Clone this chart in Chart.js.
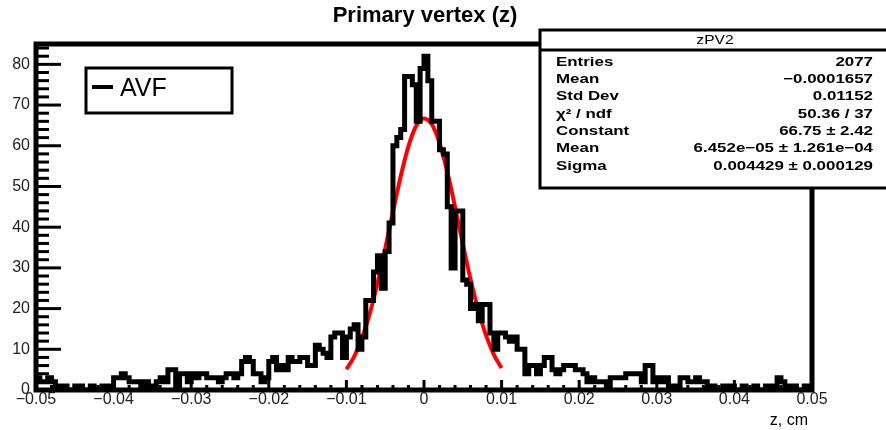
<!DOCTYPE html>
<html>
<head>
<meta charset="utf-8">
<script src="https://cdn.jsdelivr.net/npm/chart.js@4.4.1/dist/chart.umd.min.js"></script>
<style>
  html, body { margin: 0; padding: 0; background: #fff; }
  canvas { display: block; }
</style>
</head>
<body>
<canvas id="zpvChart" width="886" height="430"></canvas>
<script>
// ヒストグラム zPV2 : bin幅 0.0005 cm, 範囲 -0.05〜0.05
const binLow = -0.05;
const binWidth = 0.0005;
const binCounts = [
  3, 2, 2, 3, 2, 1, 0, 1, 0, 0,
  1, 1, 0, 0, 1, 0, 0, 1, 0, 1,
  3, 3, 4, 3, 2, 2, 2, 1, 2, 1,
  0, 2, 3, 2, 5, 5, 1, 4, 4, 2,
  4, 3, 4, 4, 3, 3, 3, 2, 3, 4,
  4, 3, 4, 7, 8, 7, 4, 4, 2, 3,
  7, 8, 5, 6, 5, 8, 7, 7, 8, 8,
  6, 6, 11, 10, 9, 8, 13, 14, 14, 8,
  13, 15, 16, 10, 13, 22, 22, 29, 33, 25,
  34, 41, 60, 62, 64, 77, 77, 75, 66, 79,
  82, 76, 66, 66, 59, 58, 45, 30, 44, 44,
  27, 26, 20, 21, 17, 21, 21, 14, 10, 14,
  14, 13, 12, 13, 10, 10, 4, 6, 6, 4,
  6, 8, 8, 5, 4, 5, 6, 6, 6, 5,
  5, 4, 2, 3, 2, 2, 2, 1, 3, 3,
  3, 3, 4, 4, 4, 4, 2, 6, 6, 2,
  3, 2, 3, 1, 1, 0, 3, 3, 2, 2,
  3, 2, 2, 0, 1, 0, 0, 1, 0, 1,
  0, 0, 1, 0, 0, 1, 0, 0, 1, 0,
  1, 3, 2, 1, 0, 1, 0, 0, 1, 0,
];

// ガウスフィット (赤線) の読み取り値
const fitZ = [-0.010, -0.009, -0.008, -0.007, -0.006, -0.005, -0.004, -0.003, -0.002, -0.001, 0,
  0.001, 0.002, 0.003, 0.004, 0.005, 0.006, 0.007, 0.008, 0.009, 0.010];
const fitValues = [5.1, 8.2, 12.7, 18.7, 26.2, 34.7, 43.8, 52.5, 59.9, 64.9, 66.7,
  65.3, 60.7, 53.6, 45.0, 35.9, 27.2, 19.6, 13.4, 8.7, 5.4];

// 軸の目盛
const xTickValues = [-0.05, -0.04, -0.03, -0.02, -0.01, 0, 0.01, 0.02, 0.03, 0.04, 0.05];
const xTickLabels = ['\u22120.05', '\u22120.04', '\u22120.03', '\u22120.02', '\u22120.01', '0',
  '0.01', '0.02', '0.03', '0.04', '0.05'];
const yTickValues = [0, 10, 20, 30, 40, 50, 60, 70, 80];
const yTickLabels = ['0', '10', '20', '30', '40', '50', '60', '70', '80'];

// 統計ボックス
const statsTitle = 'zPV2';
const statsLabels = ['Entries', 'Mean', 'Std Dev', '\u03c7\u00b2 / ndf', 'Constant', 'Mean', 'Sigma'];
const statsValues = ['2077', '\u22120.0001657', '0.01152', '50.36 / 37', '66.75 \u00b1 2.42',
  '6.452e\u221205 \u00b1 1.261e\u221204', '0.004429 \u00b1 0.000129'];

const FONT = '"Liberation Sans", Arial, sans-serif';

// ステップ用の点列 (各binの左端 + 最後の右端)
function buildStepPoints() {
  const pts = binCounts.map((c, i) => ({ x: binLow + i * binWidth, y: c }));
  pts.push({ x: binLow + binCounts.length * binWidth, y: binCounts[binCounts.length - 1] });
  return pts;
}

function drawStretched(ctx, text, x, y, align, sx) {
  ctx.save();
  ctx.translate(x, y);
  ctx.scale(sx, 1);
  ctx.textAlign = align;
  ctx.fillText(text, 0, 0);
  ctx.restore();
}

// 枠・内向き目盛・凡例・統計ボックス・タイトル
const rootDecor = {
  id: 'rootDecor',
  afterDatasetsDraw(chart) {
    const ctx = chart.ctx;
    const a = chart.chartArea;
    const xs = chart.scales.x;
    const ys = chart.scales.y;
    ctx.save();
    ctx.strokeStyle = '#000';
    ctx.fillStyle = '#000';

    // 内向きの目盛 (y: 2刻み, x: 0.002刻み)
    ctx.lineWidth = 3;
    for (let v = 0; v <= 84; v += 2) {
      const py = ys.getPixelForValue(v);
      const len = v % 10 === 0 ? 25 : 13;
      ctx.beginPath();
      ctx.moveTo(a.left, py);
      ctx.lineTo(a.left + len, py);
      ctx.stroke();
    }
    for (let k = 0; k <= 50; k++) {
      const px = xs.getPixelForValue(-0.05 + k * 0.002);
      const len = k % 5 === 0 ? 10 : 5;
      ctx.beginPath();
      ctx.moveTo(px, a.bottom);
      ctx.lineTo(px, a.bottom - len);
      ctx.stroke();
    }

    // フレーム
    ctx.lineWidth = 5;
    ctx.strokeRect(a.left, a.top, a.right - a.left, a.bottom - a.top);

    // 凡例
    ctx.fillStyle = '#fff';
    ctx.fillRect(86, 68, 146, 45);
    ctx.lineWidth = 3;
    ctx.strokeRect(86, 68, 146, 45);
    ctx.lineWidth = 4;
    ctx.beginPath();
    ctx.moveTo(92, 87);
    ctx.lineTo(113, 87);
    ctx.stroke();
    ctx.fillStyle = '#000';
    ctx.font = '25px ' + FONT;
    ctx.textAlign = 'left';
    ctx.textBaseline = 'alphabetic';
    ctx.fillText('AVF', 120, 96);

    // 統計ボックス
    ctx.fillStyle = '#fff';
    ctx.fillRect(540, 30, 360, 158);
    ctx.lineWidth = 3;
    ctx.strokeRect(540, 30, 360, 158);
    ctx.beginPath();
    ctx.moveTo(540, 50);
    ctx.lineTo(886, 50);
    ctx.stroke();
    ctx.fillStyle = '#000';
    ctx.textBaseline = 'middle';
    ctx.font = '13px ' + FONT;
    drawStretched(ctx, statsTitle, 715, 40, 'center', 1.2);
    ctx.font = 'bold 13px ' + FONT;
    const rowY = [62, 79, 96, 114, 131, 148, 166];
    statsLabels.forEach((lab, i) => {
      drawStretched(ctx, lab, 556, rowY[i], 'left', 1.3);
      drawStretched(ctx, statsValues[i], 873, rowY[i], 'right', 1.3);
    });

    // タイトルと軸タイトル
    ctx.font = 'bold 22px ' + FONT;
    ctx.textAlign = 'center';
    ctx.fillText('Primary vertex (z)', 425, 16);
    ctx.font = '16px ' + FONT;
    ctx.textAlign = 'right';
    ctx.fillText('z, cm', 808, 421);
    ctx.restore();
  },
};

function displayVertexChart() {
  const ctx = document.getElementById('zpvChart').getContext('2d');
  new Chart(ctx, {
    type: 'line',
    data: {
      datasets: [
        {
          label: 'AVF',
          data: buildStepPoints(),
          stepped: 'before',
          borderColor: '#000',
          borderWidth: 5,
          pointRadius: 0,
          fill: false,
        },
        {
          label: 'fit',
          data: fitZ.map((z, i) => ({ x: z, y: fitValues[i] })),
          borderColor: '#ff0000',
          borderWidth: 4,
          pointRadius: 0,
          cubicInterpolationMode: 'monotone',
          fill: false,
        },
      ],
    },
    options: {
      responsive: false,
      animation: false,
      devicePixelRatio: 1,
      layout: { padding: { top: 44, right: 74, left: 0, bottom: 0 } },
      plugins: { legend: { display: false }, title: { display: false }, tooltip: { enabled: false } },
      scales: {
        x: {
          type: 'linear',
          min: -0.05,
          max: 0.05,
          grid: { display: false, drawTicks: false },
          border: { display: false },
          afterBuildTicks: (scale) => { scale.ticks = xTickValues.map((v) => ({ value: v })); },
          afterFit: (scale) => { scale.height = 40; },
          ticks: {
            autoSkip: false,
            maxRotation: 0,
            padding: 0,
            color: '#222',
            font: { family: FONT, size: 16 },
            callback: (value, index) => xTickLabels[index],
          },
        },
        y: {
          min: 0,
          max: 85,
          grid: { display: false, drawTicks: false },
          border: { display: false },
          afterBuildTicks: (scale) => { scale.ticks = yTickValues.map((v) => ({ value: v })); },
          afterFit: (scale) => { scale.width = 36; },
          ticks: {
            padding: 6,
            color: '#222',
            font: { family: FONT, size: 16 },
            callback: (value, index) => yTickLabels[index],
          },
        },
      },
    },
    plugins: [rootDecor],
  });
}

displayVertexChart();
</script>
</body>
</html>
